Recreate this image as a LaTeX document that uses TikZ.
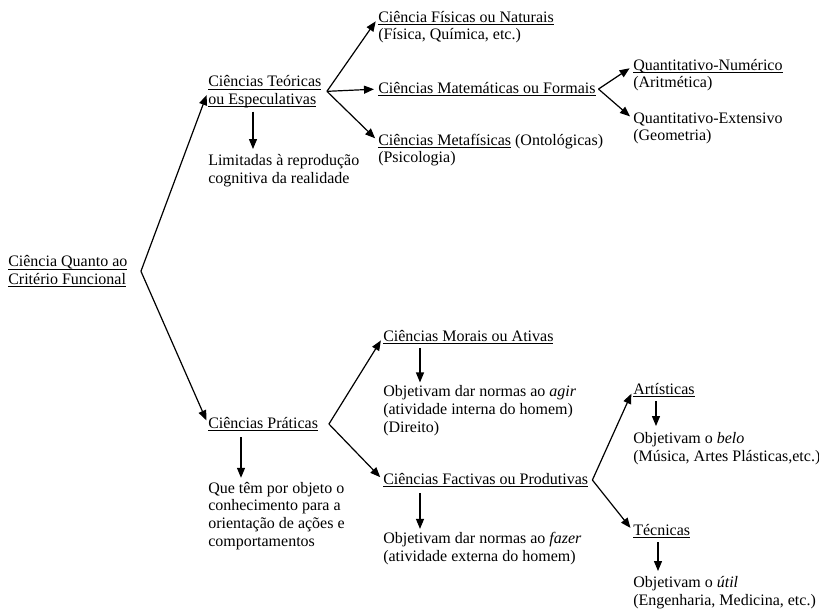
\documentclass[tikz,border=0pt]{standalone}
\usepackage{fontspec}
\setmainfont{Liberation Serif}
\usetikzlibrary{positioning,arrows.meta}
\newcommand\sublin[1]{\setbox0=\hbox{#1}\rlap{\vrule height -1.8pt depth 2.4pt width \wd0}\box0\relax}

\begin{document}
\begin{tikzpicture}[
  x=0.75pt, y=-0.75pt,
  every node/.style={inner sep=0pt, anchor=base west, align=left, font=\fontsize{12}{13.2}\selectfont},
  arrow/.style={-{Triangle[length=7.5pt,width=6pt]}, line width=0.9pt, shorten >=3pt},
  vline/.style={-{Triangle[length=7.5pt,width=6pt]}, line width=0.9pt}
]
\useasboundingbox (0,0) rectangle (819,608);

% root (multi-line nodes sit on their last baseline)
\node (root) at (8,284) {\sublin{Ciência Quanto ao}\\\sublin{Critério Funcional}};

% theoretical branch
\node (teor) at (208,104) {\sublin{Ciências Teóricas}\\\sublin{ou Especulativas}};
\node (teordesc) at (208,183) {Limitadas à reprodução\\cognitiva da realidade};
\node (fis) at (378,22) {\sublin{Ciência Físicas ou Naturais}};
\node (fisdesc) at (378,39) {(Física, Química, etc.)};
\node (mat) at (378,93) {\sublin{Ciências Matemáticas ou Formais}};
\node (met) at (378,145) {\sublin{Ciências Metafísicas} (Ontológicas)};
\node (metdesc) at (378,162) {(Psicologia)};
\node (num) at (633,70) {\sublin{Quantitativo-Numérico}};
\node (numdesc) at (633,87) {(Aritmética)};
\node (ext) at (633,123) {Quantitativo-Extensivo};
\node (extdesc) at (633,140) {(Geometria)};

% practical branch
\node (prat) at (208,428) {\sublin{Ciências Práticas}};
\node (pratdesc) at (208,546) {Que têm por objeto o\\conhecimento para a\\orientação de ações e\\comportamentos};
\node (mor) at (383,341) {\sublin{Ciências Morais ou Ativas}};
\node (mordesc) at (383,432) {Objetivam dar normas ao \textit{agir}\\(atividade interna do homem)\\(Direito)};
\node (fac) at (383,484) {\sublin{Ciências Factivas ou Produtivas}};
\node (facdesc) at (383,561) {Objetivam dar normas ao \textit{fazer}\\(atividade externa do homem)};
\node (art) at (633,394) {\sublin{Artísticas}};
\node (artdesc) at (633,461) {Objetivam o \textit{belo}\\(Música, Artes Plásticas,etc.)};
\node (tec) at (633,535) {\sublin{Técnicas}};
\node (tecdesc) at (633,605) {Objetivam o \textit{útil}\\(Engenharia, Medicina, etc.)};

% forks
\coordinate (rootfork) at ([xshift=10]root.east);
\coordinate (teorfork) at ([xshift=4]teor.east);
\coordinate (matfork) at ([xshift=2]mat.east);
\coordinate (pratfork) at ([xshift=8]prat.east);
\coordinate (facfork) at ([xshift=3]fac.east);

\draw[arrow] (rootfork) -- (teor.west);
\draw[arrow] (rootfork) -- (prat.west);
\draw[arrow] (teorfork) -- (fis.west);
\draw[arrow] (teorfork) -- (mat.west);
\draw[arrow] (teorfork) -- (met.west);
\draw[arrow] (matfork) -- (num.west);
\draw[arrow] (matfork) -- (ext.west);
\draw[arrow] (pratfork) -- (mor.west);
\draw[arrow] (pratfork) -- (fac.west);
\draw[arrow] (facfork) -- (art.west);
\draw[arrow] (facfork) -- (tec.west);

% down arrows
\draw[vline] ([shift={(45,4)}]teor.south west) -- ([shift={(45,-5)}]teordesc.north west);
\draw[vline] ([shift={(33,6)}]prat.south west) -- ([shift={(33,-4)}]pratdesc.north west);
\draw[vline] ([shift={(37,4)}]mor.south west) -- ([shift={(37,-3)}]mordesc.north west);
\draw[vline] ([shift={(37,6)}]fac.south west) -- ([shift={(37,-3)}]facdesc.north west);
\draw[vline] ([shift={(23,4)}]art.south west) -- ([shift={(23,-6)}]artdesc.north west);
\draw[vline] ([shift={(25,4)}]tec.south west) -- ([shift={(25,-5)}]tecdesc.north west);
\end{tikzpicture}
\end{document}
